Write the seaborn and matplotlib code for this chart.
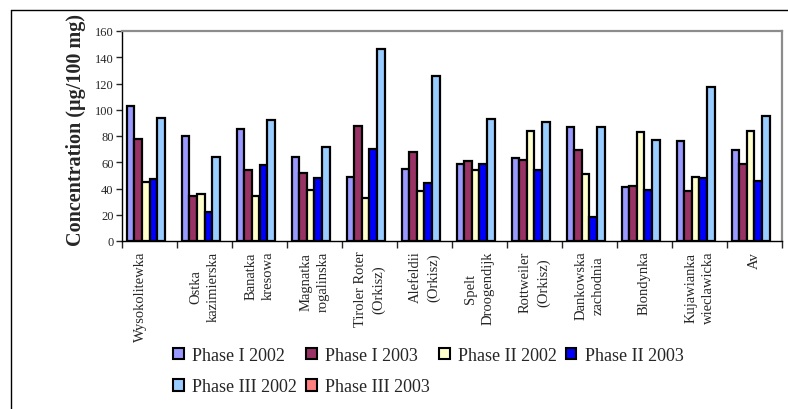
'''
Grouped bar chart of concentration by variety and phase
'''

import numpy as np
import pandas as pd
import seaborn as sns
import matplotlib.pyplot as plt
from matplotlib.patches import Patch
from matplotlib.lines import Line2D

varieties = ['Wysokolitewka\n', 'Ostka\nkazimierska', 'Banatka\nkresowa',
             'Magnatka\nrogalinska', 'Tiroler Roter\n(Orkisz)',
             'Alefeldii\n(Orkisz)', 'Spelt\nDroogendijk',
             'Rottweiler\n(Orkisz)', 'Dankowska\nzachodnia', 'Blondynka',
             'Kujawianka\nwieclawicka', 'Av']

phases = ['Phase I 2002', 'Phase I 2003', 'Phase II 2002', 'Phase II 2003',
          'Phase III 2002', 'Phase III 2003']

phase1_2002 = [103, 80, 85, 64, 49, 55, 59, 63, 87, 41, 76, 69]
phase1_2003 = [78, 34, 54, 52, 88, 68, 61, 62, 69, 42, 38, 59]
phase2_2002 = [45, 36, 34, 39, 33, 38, 54, 84, 51, 83, 49, 84]
phase2_2003 = [47, 22, 58, 48, 70, 44, 59, 54, 18, 39, 48, 46]
phase3_2002 = [94, 64, 92, 72, 146, 126, 93, 91, 87, 77, 117, 95]
phase3_2003 = [np.nan] * 12

colors = {'Phase I 2002': '#9999ff', 'Phase I 2003': '#993366',
          'Phase II 2002': '#ffffcc', 'Phase II 2003': '#0000ff',
          'Phase III 2002': '#99ccff', 'Phase III 2003': '#ff8080'}


def build_data():
    series = [phase1_2002, phase1_2003, phase2_2002, phase2_2003,
              phase3_2002, phase3_2003]
    rows = []
    for phase, values in zip(phases, series):
        for variety, value in zip(varieties, values):
            rows.append({'Variety': variety, 'Phase': phase, 'Value': value})
    return pd.DataFrame(rows)


def main():
    sns.set_style('ticks')
    plt.rcParams['font.family'] = ['Liberation Serif', 'DejaVu Serif']

    data = build_data().dropna()
    fig = plt.figure(figsize=(7.88, 4.10), dpi=100)
    ax = fig.add_axes([122 / 788, 168 / 410, 660 / 788, 210 / 410])

    sns.barplot(data=data, x='Variety', y='Value', hue='Phase',
                order=varieties, hue_order=phases, palette=colors,
                saturation=1, width=0.82, edgecolor='black', linewidth=1.6,
                errorbar=None, legend=False, ax=ax)

    ax.set_xlim(-0.5, len(varieties) - 0.5)
    ax.set_ylim(0, 160)
    ax.set_yticks(range(0, 161, 20))
    ax.tick_params(axis='y', labelsize=9, length=4, width=1, pad=2)

    ax.set_xticks(np.arange(len(varieties) + 1) - 0.5)
    ax.set_xticklabels([])
    ax.tick_params(axis='x', which='major', length=5, width=1)
    ax.set_xticks(np.arange(len(varieties)), minor=True)
    ax.set_xticklabels(varieties, minor=True, rotation=90, fontsize=10.5,
                       ha='center', va='top', linespacing=1.45)
    ax.tick_params(axis='x', which='minor', length=0, pad=7)

    ax.set_xlabel('')
    ax.set_ylabel('')
    for side in ['left', 'bottom']:
        ax.spines[side].set_color('black')
        ax.spines[side].set_linewidth(1)
    for side in ['top', 'right']:
        ax.spines[side].set_visible(True)
        ax.spines[side].set_color('#8c8c8c')
        ax.spines[side].set_linewidth(1.6)

    fig.text(76 / 788, 1 - 130 / 410, 'Concentration (µg/100 mg)',
             rotation=90, fontsize=14.5, fontweight='bold',
             ha='center', va='center')

    # legend fills column by column, so reorder to get rows like the original
    legend_order = [0, 4, 1, 5, 2, 3]
    handles = [Patch(facecolor=colors[phases[i]], edgecolor='black',
                     linewidth=1.5) for i in legend_order]
    labels = [phases[i] for i in legend_order]
    fig.legend(handles, labels, ncol=4, loc='upper left',
               bbox_to_anchor=(164 / 788, 1 - 339 / 410), frameon=False,
               fontsize=13, borderpad=0, handlelength=0.6, handleheight=0.6,
               handletextpad=0.45, columnspacing=0.5, labelspacing=0.8)

    # outer chart border, only top and left edges are visible
    fig.add_artist(Line2D([11 / 788, 1], [1 - 11 / 410, 1 - 11 / 410],
                          color='black', linewidth=1))
    fig.add_artist(Line2D([11 / 788, 11 / 788], [0, 1 - 11 / 410],
                          color='black', linewidth=1))

    fig.savefig('out.png', dpi=100)


if __name__ == '__main__':
    main()
